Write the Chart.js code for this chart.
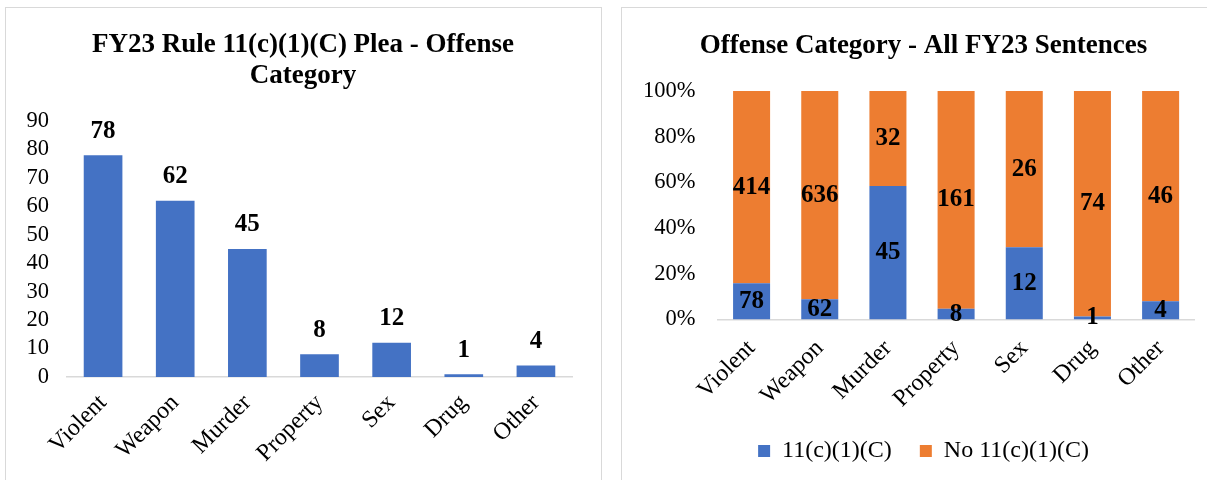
<!DOCTYPE html>
<html lang="en">
<head>
  <meta charset="UTF-8">
  <title>FY23 Rule 11(c)(1)(C) Plea - Offense Category</title>
  <script src="https://cdn.jsdelivr.net/npm/chart.js"></script>
  <style>
    html, body { margin: 0; padding: 0; background: #fff; overflow: hidden; width: 1207px; height: 480px; }
    .frame { position: absolute; border: 1.5px solid #d9d9d9; box-sizing: border-box; }
    canvas { position: absolute; }
  </style>
</head>
<body>
  <div class="frame" style="left:5px; top:7px; width:597px; height:490px;"></div>
  <div class="frame" style="left:621px; top:7px; width:620px; height:490px;"></div>
  <canvas id="graficoPlea" width="596" height="473" style="left:5px; top:7px; width:596px; height:473px;"></canvas>
  <canvas id="graficoTodos" width="603" height="473" style="left:622px; top:7px; width:603px; height:473px;"></canvas>

  <script>
    // datos
    const categorias = ['Violent', 'Weapon', 'Murder', 'Property', 'Sex', 'Drug', 'Other'];
    const conPlea = [78, 62, 45, 8, 12, 1, 4];
    const sinPlea = [414, 636, 32, 161, 26, 74, 46];
    const ticksIzq = [0, 10, 20, 30, 40, 50, 60, 70, 80, 90];
    const ticksDer = [0, 20, 40, 60, 80, 100];

    const azul = '#4472C4';
    const naranja = '#ED7D31';
    const fuente = '"Liberation Serif", "Times New Roman", serif';
    const texto = '#000';

    // porcentajes para la barra apilada al 100%
    const pctCon = conPlea.map((v, i) => v / (v + sinPlea[i]) * 100);
    const pctSin = sinPlea.map((v, i) => v / (v + conPlea[i]) * 100);

    // etiquetas de valor sobre / dentro de las barras
    const etiquetasValor = {
      id: 'etiquetasValor',
      afterDatasetsDraw(chart, args, opts) {
        const ctx = chart.ctx;
        ctx.save();
        ctx.font = 'bold ' + opts.size + 'px ' + fuente;
        ctx.fillStyle = '#000';
        ctx.textAlign = 'center';
        ctx.textBaseline = 'middle';
        chart.data.datasets.forEach((ds, i) => {
          chart.getDatasetMeta(i).data.forEach((bar, j) => {
            const valor = ds.cuentas ? ds.cuentas[j] : ds.data[j];
            const y = opts.modo === 'centro' ? (bar.y + bar.base) / 2 : bar.y - opts.separacion;
            ctx.fillText(valor, bar.x, y);
          });
        });
        ctx.restore();
      }
    };

    // eje vacio a la derecha: solo reserva margen para que el titulo quede centrado
    function margenDerecho(ancho) {
      return {
        position: 'right',
        display: true,
        grid: { display: false, drawTicks: false },
        border: { display: false },
        ticks: { display: false },
        afterFit(scale) { scale.width = ancho; }
      };
    }

    new Chart(document.getElementById('graficoPlea').getContext('2d'), {
      type: 'bar',
      data: {
        labels: categorias,
        datasets: [{
          label: '11(c)(1)(C)',
          data: conPlea,
          backgroundColor: azul,
          barPercentage: 1,
          categoryPercentage: 0.536
        }]
      },
      options: {
        responsive: false,
        animation: false,
        layout: { padding: 0 },
        plugins: {
          legend: { display: false },
          tooltip: { enabled: false },
          title: {
            display: true,
            text: ['FY23 Rule 11(c)(1)(C) Plea - Offense', 'Category'],
            color: '#000',
            font: { family: fuente, size: 27, weight: 'bold', lineHeight: 1.13 },
            padding: { top: 23, bottom: 30 }
          },
          etiquetasValor: { modo: 'arriba', size: 25, separacion: 24 }
        },
        scales: {
          x: {
            grid: { display: false, drawTicks: false },
            border: { display: true, color: '#d9d9d9', width: 1.5 },
            ticks: {
              color: texto,
              font: { family: fuente, size: 24 },
              minRotation: 45,
              maxRotation: 45,
              autoSkip: false,
              padding: 12
            },
            afterFit(scale) { scale.height = 103; }
          },
          y: {
            min: 0,
            max: 90,
            afterBuildTicks(scale) { scale.ticks = ticksIzq.map(v => ({ value: v })); },
            grid: { display: false, drawTicks: false },
            border: { display: false },
            ticks: {
              color: texto,
              font: { family: fuente, size: 22.5 },
              autoSkip: false,
              padding: 18
            },
            afterFit(scale) { scale.width = 62; }
          },
          margen: margenDerecho(29)
        }
      },
      plugins: [etiquetasValor]
    });

    new Chart(document.getElementById('graficoTodos').getContext('2d'), {
      type: 'bar',
      data: {
        labels: categorias,
        datasets: [{
          label: '11(c)(1)(C)',
          data: pctCon,
          cuentas: conPlea,
          backgroundColor: azul,
          barPercentage: 1,
          categoryPercentage: 0.543
        }, {
          label: 'No 11(c)(1)(C)',
          data: pctSin,
          cuentas: sinPlea,
          backgroundColor: naranja,
          barPercentage: 1,
          categoryPercentage: 0.543
        }]
      },
      options: {
        responsive: false,
        animation: false,
        layout: { padding: { left: 0, right: 0, top: 0, bottom: 7 } },
        plugins: {
          legend: {
            position: 'bottom',
            labels: {
              color: texto,
              font: { family: fuente, size: 24 },
              boxWidth: 12,
              boxHeight: 12,
              padding: 28
            }
          },
          tooltip: { enabled: false },
          title: {
            display: true,
            text: 'Offense Category - All FY23 Sentences',
            color: '#000',
            font: { family: fuente, size: 27, weight: 'bold', lineHeight: 1.13 },
            padding: { top: 23.5, bottom: 30 }
          },
          etiquetasValor: { modo: 'centro', size: 25 }
        },
        scales: {
          x: {
            stacked: true,
            grid: { display: false, drawTicks: false },
            border: { display: true, color: '#d9d9d9', width: 1.5 },
            ticks: {
              color: texto,
              font: { family: fuente, size: 24 },
              minRotation: 45,
              maxRotation: 45,
              autoSkip: false,
              padding: 15
            },
            afterFit(scale) { scale.height = 91.5; }
          },
          y: {
            stacked: true,
            min: 0,
            max: 100,
            afterBuildTicks(scale) { scale.ticks = ticksDer.map(v => ({ value: v })); },
            grid: { display: false, drawTicks: false },
            border: { display: false },
            ticks: {
              color: texto,
              font: { family: fuente, size: 22.5 },
              autoSkip: false,
              padding: 22,
              callback: v => v + '%'
            },
            afterFit(scale) { scale.width = 95.5; }
          },
          margen: margenDerecho(30.3)
        }
      },
      plugins: [etiquetasValor]
    });
  </script>
</body>
</html>
